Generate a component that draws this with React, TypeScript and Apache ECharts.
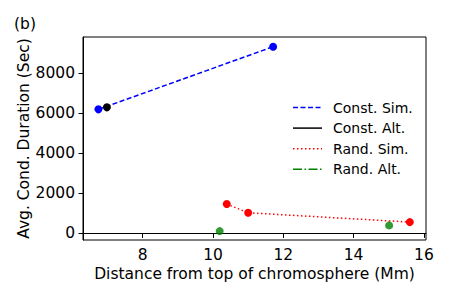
import React, { useEffect, useRef } from "react";
import * as echarts from "echarts";

const constSimX = [6.74, 11.71];
const constSimY = [6200, 9330];
const constAltX = [6.98];
const constAltY = [6300];
const randSimX = [10.39, 11.0, 15.6];
const randSimY = [1465, 1030, 565];
const randAltX = [10.19, 15.01];
const randAltY = [115, 400];
const legendNames = ["Const. Sim.", "Const. Alt.", "Rand. Sim.", "Rand. Alt."];
const panelLabel = "(b)";
const xName = "Distance from top of chromosphere (Mm)";
const yName = "Avg. Cond. Duration (Sec)";

const FONT = "DejaVu Sans";
const pair = (xs: number[], ys: number[]) => xs.map((x, i) => [x, ys[i]]);

export default function App() {
  const ref = useRef<HTMLDivElement>(null);
  useEffect(() => {
    if (!ref.current) return;
    const chart = echarts.init(ref.current, null, { renderer: "svg" });
    const colors = ["#0000ff", "#000000", "#ff0000", "#008000"];
    const dashes: any[] = [[5, 2.5], "solid", [1.5, 2.5], [9, 2.5, 1.5, 2.5]];
    const legendItems: any[] = [];
    legendNames.forEach((n, i) => {
      const y = 107.5 + i * 20.6;
      legendItems.push({
        type: "line",
        shape: { x1: 293, y1: y, x2: 322, y2: y },
        style: { stroke: colors[i], lineWidth: 1.5, lineDash: dashes[i] === "solid" ? null : dashes[i] },
      });
      legendItems.push({
        type: "text",
        x: 333,
        y: y,
        style: { text: n, fontFamily: FONT, fontSize: 14, fill: "#000", textVerticalAlign: "middle", textAlign: "left" },
      });
    });
    const axisLabel = {
      color: "#000",
      fontFamily: FONT,
      fontSize: 15.5,
      showMinLabel: false,
      showMaxLabel: false,
      formatter: (v: number) => String(v),
    };
    chart.setOption({
      animation: false,
      grid: { left: 83, right: 24, top: 37, bottom: 60, show: true, borderColor: "#000", borderWidth: 1, backgroundColor: "transparent" },
      xAxis: {
        type: "value",
        min: 6.3,
        max: 16.06,
        splitLine: { show: false },
        axisLine: { show: true, lineStyle: { color: "#000", width: 1 } },
        axisTick: { show: true, inside: false, length: 4.5, lineStyle: { color: "#000" } },
        axisLabel: { ...axisLabel, margin: 7 },
      },
      yAxis: {
        type: "value",
        min: -330,
        max: 9815,
        splitLine: { show: false },
        axisLine: { show: true, lineStyle: { color: "#000", width: 1 } },
        axisTick: { show: true, inside: false, length: 4.5, lineStyle: { color: "#000" } },
        axisLabel: { ...axisLabel, margin: 8 },
      },
      graphic: [
        { type: "text", x: 14, y: 24, style: { text: panelLabel, fontFamily: FONT, fontSize: 15.5, fill: "#000", textVerticalAlign: "middle" } },
        { type: "text", x: 254.5, y: 274, style: { text: xName, fontFamily: FONT, fontSize: 15.5, fill: "#000", textAlign: "center", textVerticalAlign: "middle" } },
        { type: "text", x: 24, y: 138.5, rotation: Math.PI / 2, style: { text: yName, fontFamily: FONT, fontSize: 15.5, fill: "#000", textAlign: "center", textVerticalAlign: "middle" } },
        ...legendItems,
      ],
      series: [
        { name: legendNames[0], type: "line", data: pair(constSimX, constSimY), symbol: "circle", symbolSize: 8, itemStyle: { color: colors[0] }, lineStyle: { color: colors[0], width: 1.5, type: dashes[0] } },
        { name: legendNames[1], type: "line", data: pair(constAltX, constAltY), symbol: "circle", symbolSize: 8, itemStyle: { color: colors[1] }, lineStyle: { color: colors[1], width: 1.5 } },
        { name: legendNames[2], type: "line", data: pair(randSimX, randSimY), symbol: "circle", symbolSize: 8, itemStyle: { color: colors[2] }, lineStyle: { color: colors[2], width: 1.5, type: dashes[2] } },
        { name: legendNames[3], type: "scatter", data: pair(randAltX, randAltY), symbol: "circle", symbolSize: 8, itemStyle: { color: colors[3] } },
      ],
    });
    return () => chart.dispose();
  }, []);
  return <div ref={ref} style={{ position: "fixed", left: 0, top: 0, width: 450, height: 300, background: "#fff" }} />;
}
